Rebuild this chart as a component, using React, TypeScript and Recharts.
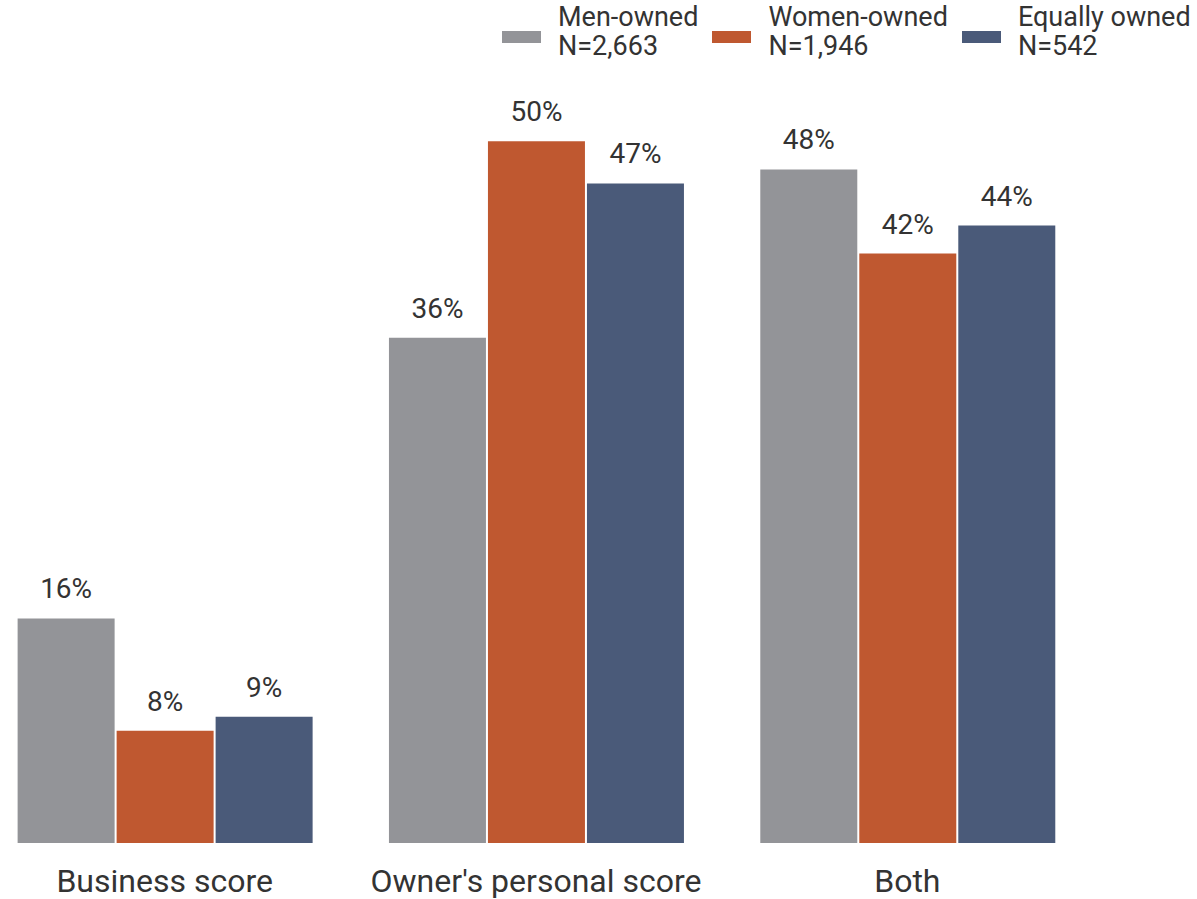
import { BarChart, Bar, XAxis, YAxis, LabelList } from "recharts";

const categories = ["Business score", "Owner's personal score", "Both"];
const menOwned = [16, 36, 48];
const womenOwned = [8, 50, 42];
const equallyOwned = [9, 47, 44];

const seriesNames = ["Men-owned", "Women-owned", "Equally owned"];
const seriesNs = ["N=2,663", "N=1,946", "N=542"];
const colors = ["#939498", "#BF5830", "#4A5A79"];

const data = categories.map((name, i) => ({
  name,
  men: menOwned[i],
  women: womenOwned[i],
  equal: equallyOwned[i],
}));

const keys = ["men", "women", "equal"];
const textColor = "#333333";
const font = "Roboto, 'Noto Sans', sans-serif";

function CategoryTick(props: any) {
  const { x, y, payload } = props;
  return (
    <text x={x} y={y + 41} textAnchor="middle" fontSize={32} fill={textColor} fontFamily={font}>
      {payload.value}
    </text>
  );
}

function LegendBox() {
  return (
    <div
      style={{
        position: "absolute",
        top: 3,
        left: 502,
        display: "flex",
        fontFamily: font,
        color: textColor,
        fontSize: 27,
        lineHeight: "29px",
      }}
    >
      {seriesNames.map((name, i) => (
        <div key={name} style={{ display: "flex", alignItems: "flex-start", marginRight: 14 }}>
          <div style={{ width: 39, height: 12, background: colors[i], marginTop: 28, marginRight: 17 }} />
          <div style={{ whiteSpace: "nowrap" }}>
            <div>{name}</div>
            <div>{seriesNs[i]}</div>
          </div>
        </div>
      ))}
    </div>
  );
}

export default function App() {
  return (
    <div style={{ position: "absolute", left: 0, top: 0, width: 1197, height: 899, background: "#fff", overflow: "hidden" }}>
      <div style={{ position: "absolute", left: -21, top: 0 }}>
        <BarChart
          width={1218}
          height={899}
          data={data}
          margin={{ top: 1, right: 104, bottom: 0, left: 0 }}
          barGap={2}
          barCategoryGap="10.4%"
        >
          <XAxis
            dataKey="name"
            axisLine={false}
            tickLine={false}
            height={56}
            tick={<CategoryTick />}
            interval={0}
          />
          <YAxis hide domain={[0, 60]} />
          {keys.map((k, i) => (
            <Bar key={k} dataKey={k} fill={colors[i]} isAnimationActive={false}>
              <LabelList
                dataKey={k}
                position="top"
                offset={20}
                formatter={(v: any) => `${v}%`}
                fill={textColor}
                fontSize={28}
                fontFamily={font}
              />
            </Bar>
          ))}
        </BarChart>
      </div>
      <LegendBox />
    </div>
  );
}
